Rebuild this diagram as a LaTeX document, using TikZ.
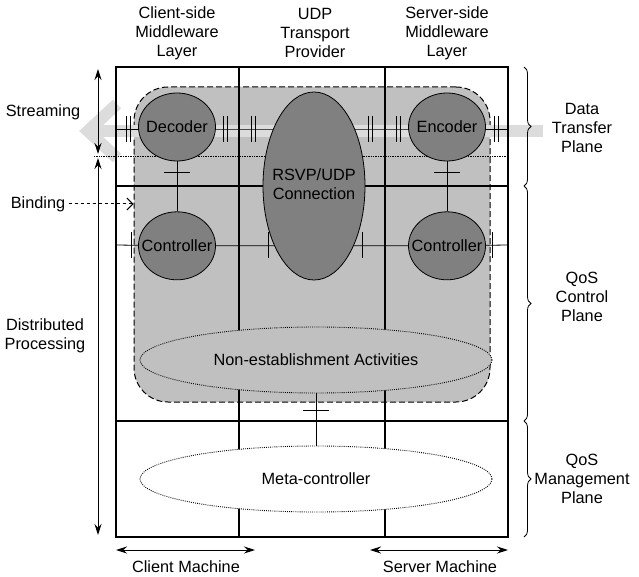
\documentclass[tikz,border=0pt]{standalone}
\usepackage{fontspec}
\setmainfont{Liberation Sans}
\usepackage{tikz}
\usetikzlibrary{arrows.meta,shapes.geometric,positioning,decorations.pathreplacing}
\definecolor{qosdark}{RGB}{128,128,128}
\definecolor{qosregion}{RGB}{192,192,192}
\definecolor{qosband}{RGB}{220,220,220}
\newcommand{\lbl}{\fontsize{16.3}{19}\selectfont}
\newcommand{\nw}[1]{\makebox[0pt]{#1}}
\pgfdeclarelayer{back}
\pgfdeclarelayer{band}
\pgfdeclarelayer{lines}
\pgfsetlayers{back,band,lines,main}
\tikzstyle{comp} = [ellipse, draw, line width=0.8pt, fill=qosdark, minimum width=77pt, minimum height=68pt, inner sep=0pt]
\tikzstyle{activity} = [ellipse, draw, line width=0.9pt, dash pattern=on 0.9pt off 1.2pt, minimum width=352pt, minimum height=66pt, inner sep=0pt]
\tikzstyle{region} = [rectangle, rounded corners=34pt, draw, dash pattern=on 6pt off 3pt, line width=1pt, fill=qosregion, inner sep=0pt]
\tikzstyle{dim} = [line width=1pt, {Stealth[length=11pt,width=7pt]}-{Stealth[length=11pt,width=7pt]}]
\tikzstyle{plane} = [line width=0.8pt, decorate, decoration={brace, amplitude=7pt}]
\tikzstyle{wire} = [line width=0.8pt]
\tikzset{
  dtick/.pic={\draw[wire] (-2,-13) -- (-2,13) (2,-13) -- (2,13);},
  stick/.pic={\draw[wire] (0,-13) -- (0,13);},
  htick/.pic={\draw[wire] (-13,0) -- (13,0);}
}

\begin{document}
\begin{tikzpicture}[x=1pt, y=-1pt, every node/.style={font=\lbl}]
\useasboundingbox (0,0) rectangle (639,577);

% Layer headings
\node (cli) [align=center] at (177,33) {Client-side\\Middleware\\Layer};
\node (udp) [align=center] at (315,33) {UDP\\Transport\\Provider};
\node (srv) [align=center] at (447,33) {Server-side\\Middleware\\Layer};

% Components
\node (dec) [comp] at (177,127) {\nw{Decoder}};
\node (enc) [comp] at (447,127) {\nw{Encoder}};
\node (ctlC) [comp, below=50pt of dec] {\nw{Controller}};
\node (ctlS) [comp, below=50pt of enc] {\nw{Controller}};
\node (rsvp) [comp, minimum width=102pt, minimum height=188pt] at (314,186) {\nw{\begin{tabular}{@{}c@{}}RSVP/UDP\\Connection\end{tabular}}};

% Activities
\node (nonest) [activity, fill=qosregion] at (316,360) {Non-establishment Activities};
\node (meta) [activity, fill=white] at (316,479) {Meta-controller};

% Shaded region
\begin{pgfonlayer}{back}
\node (reg) [region, minimum width=356pt, minimum height=315pt] at (312,244.5) {};
\end{pgfonlayer}

% Stream
\begin{pgfonlayer}{band}
\draw[qosband, line width=12pt] (543,131) -- (92,131);
\draw[qosband, line width=12pt, miter limit=10] (117,104) -- (88,131) -- (117,158);
\end{pgfonlayer}

% Grid and connectors
\begin{pgfonlayer}{lines}
\draw[line width=1.1pt] (116,67) rectangle (508,537);
\draw[line width=1.1pt] (239,67) -- (239,537) (385,67) -- (385,537);
\draw[line width=1.1pt] (116,186) -- (508,186) (116,421) -- (508,421);
\draw[densely dotted, line width=0.7pt] (94,156) -- (508,156);
\coordinate (dL) at (116,129);
\coordinate (dR) at (508,129);
\coordinate (cL) at (116,245);
\coordinate (cR) at (508,245);
\draw[wire] (dL) -- (dL -| dec.center) -- (dR -| enc.center) -- (dR);
\draw[wire] (cL) -- (ctlC.center) -- (ctlS.center) -- (cR);
\draw[wire] (dec) -- (ctlC);
\draw[wire] (enc) -- (ctlS);
\draw[wire] (nonest) -- (meta);
\foreach \x in {128,225,253,370,398,496} \pic at (\x,129) {dtick};
\foreach \x in {131,268,362,492} \pic at (\x,245) {stick};
\pic at (177,172) {htick};
\pic at (447,172) {htick};
\pic at (316,410) {htick};
\end{pgfonlayer}

% Left side
\node (stream) at (43,112) {Streaming};
\node (bind) at (38,204) {Binding};
\node (dist) [align=center] at (45,336) {Distributed\\Processing};
\coordinate (sT) at (98,69);
\coordinate (sB) at (98,154);
\coordinate (pT) at (98,158);
\coordinate (pB) at (98,535);
\draw[dim] (sT) -- (sB);
\draw[dim] (pT) -- (pB);
\draw[dashed, line width=1pt, -{Straight Barb[length=6pt,width=12pt]}] (bind.east) -- (bind -| reg.west);

% Planes
\draw[plane] (524,67) -- (524,186);
\draw[plane] (524,186) -- (524,421);
\draw[plane] (524,421) -- (524,537);
\node (dtp) [align=center] at (582,128) {Data\\Transfer\\Plane};
\node (qcp) [align=center] at (582,297) {QoS\\Control\\Plane};
\node (qmp) [align=center] at (582,479) {QoS\\Management\\Plane};

% Machines
\coordinate (cmL) at (116,550);
\coordinate (cmR) at (255,550);
\coordinate (smL) at (370,550);
\coordinate (smR) at (508,550);
\draw[dim] (cmL) -- (cmR);
\draw[dim] (smL) -- (smR);
\node (cm) at (186,567) {Client Machine};
\node (sm) at (440,567) {Server Machine};
\end{tikzpicture}
\end{document}
